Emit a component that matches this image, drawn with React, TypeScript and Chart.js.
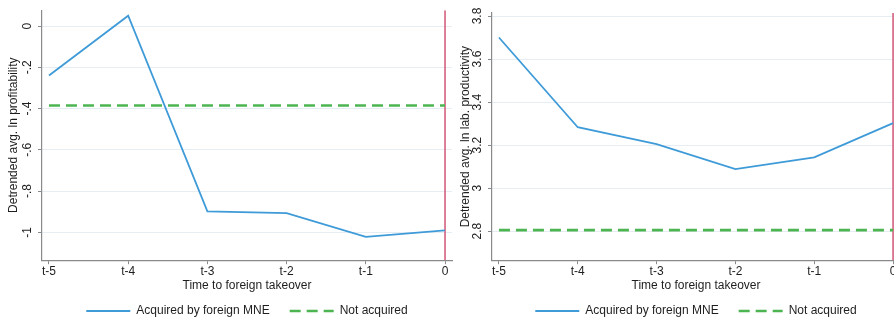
import React, { useEffect, useRef } from 'react';
import { Chart, registerables } from 'chart.js';

Chart.register(...registerables);

// ---- data ----
const periods = [-5, -4, -3, -2, -1, 0];
const xTickLabels = ['t-5', 't-4', 't-3', 't-2', 't-1', '0'];

const profitAcquired = [-0.24, 0.05, -0.898, -0.907, -1.022, -0.99];
const profitNotAcquired = [-0.385, -0.385, -0.385, -0.385, -0.385, -0.385];
const profitYTicks = [-1, -0.8, -0.6, -0.4, -0.2, 0];
const profitYTickLabels = ['-1', '-.8', '-.6', '-.4', '-.2', '0'];

const prodAcquired = [3.7, 3.283, 3.205, 3.088, 3.143, 3.302];
const prodNotAcquired = [2.805, 2.805, 2.805, 2.805, 2.805, 2.805];
const prodYTicks = [2.8, 3, 3.2, 3.4, 3.6, 3.8];
const prodYTickLabels = ['2.8', '3', '3.2', '3.4', '3.6', '3.8'];

const seriesNames = ['Acquired by foreign MNE', 'Not acquired'];
const xTitle = 'Time to foreign takeover';

// ---- style ----
const FONT = '"Liberation Sans", Arial, Helvetica, sans-serif';
const TEXT = '#1e1e1e';
const BLUE = '#3f9bd8';
const GREEN = '#4cb551';
const RED = '#d5607f';
const AXIS = '#8a8a8a';
const GRID = '#e6edf3';

type PanelProps = {
  left: number;
  width: number;
  acquired: number[];
  notAcquired: number[];
  yTicks: number[];
  yTickLabels: string[];
  yMin: number;
  yMax: number;
  yTitle: string;
  yAxisWidth: number;
  yTitlePad: number;
  yTickPad: number;
  padTop: number;
};

const legendPlacer = {
  id: 'legendPlacer',
  afterLayout(chart: any) {
    const lg = chart.legend;
    const ca = chart.chartArea;
    if (!lg || !ca) return;
    lg.left = ca.left;
    lg.right = ca.right;
    lg.width = ca.right - ca.left;
    lg.top = 285;
    lg.bottom = 321;
    lg.height = 36;
  },
};

function Panel(p: PanelProps) {
  const ref = useRef<HTMLCanvasElement | null>(null);
  useEffect(() => {
    if (!ref.current) return;
    const xMin = periods[0] - 0.088;
    const xMax = periods[periods.length - 1] + 0.088;
    const chart = new Chart(ref.current, {
      type: 'line',
      data: {
        datasets: [
          {
            label: seriesNames[0],
            data: periods.map((x, i) => ({ x, y: p.acquired[i] })),
            borderColor: BLUE,
            backgroundColor: BLUE,
            borderWidth: 1.8,
            pointRadius: 0,
            tension: 0,
          },
          {
            label: seriesNames[1],
            data: periods.map((x, i) => ({ x, y: p.notAcquired[i] })),
            borderColor: GREEN,
            backgroundColor: GREEN,
            borderWidth: 2.6,
            borderDash: [11, 6],
            pointRadius: 0,
            tension: 0,
          },
          {
            label: 'takeover',
            data: [
              { x: 0, y: p.yMin },
              { x: 0, y: p.yMax },
            ],
            borderColor: RED,
            borderWidth: 1.6,
            pointRadius: 0,
          },
        ],
      },
      options: {
        animation: false,
        responsive: false,
        maintainAspectRatio: false,
        layout: { padding: { left: 0, right: 3, top: p.padTop, bottom: 0 } },
        plugins: {
          tooltip: { enabled: false },
          legend: {
            position: 'bottom',
            maxHeight: 28,
            labels: {
              usePointStyle: true,
              pointStyle: 'line',
              pointStyleWidth: 44,
              padding: 20,
              color: TEXT,
              font: { family: FONT, size: 12 },
              generateLabels: (c: any) =>
                c.data.datasets.slice(0, 2).map((ds: any, i: number) => ({
                  text: ds.label,
                  datasetIndex: i,
                  fillStyle: ds.borderColor,
                  strokeStyle: ds.borderColor,
                  lineWidth: ds.borderWidth,
                  lineDash: ds.borderDash || [],
                  lineDashOffset: 0,
                  lineCap: 'butt',
                  pointStyle: 'line',
                  fontColor: TEXT,
                  hidden: false,
                })),
            },
          } as any,
        },
        scales: {
          x: {
            type: 'linear',
            min: xMin,
            max: xMax,
            afterBuildTicks: (s: any) => {
              s.ticks = periods.map((v) => ({ value: v }));
            },
            ticks: {
              autoSkip: false,
              maxRotation: 0,
              padding: 0,
              color: TEXT,
              font: { family: FONT, size: 12 },
              callback: (_v: any, i: number) => xTickLabels[i],
            },
            grid: {
              drawOnChartArea: false,
              drawTicks: true,
              tickLength: 4,
              tickColor: AXIS,
            },
            border: { color: AXIS, width: 1.2 },
            title: {
              display: true,
              text: xTitle,
              color: TEXT,
              font: { family: FONT, size: 12 },
              padding: { top: 0, bottom: 0 },
            },
          },
          y: {
            type: 'linear',
            min: p.yMin,
            max: p.yMax,
            afterBuildTicks: (s: any) => {
              s.ticks = p.yTicks.map((v) => ({ value: v }));
            },
            afterFit: (s: any) => {
              s.width = p.yAxisWidth;
            },
            ticks: {
              minRotation: 90,
              maxRotation: 90,
              crossAlign: 'center',
              padding: p.yTickPad,
              color: TEXT,
              font: { family: FONT, size: 12 },
              callback: (_v: any, i: number) => p.yTickLabels[i],
            },
            grid: {
              color: GRID,
              lineWidth: 1,
              drawTicks: true,
              tickLength: 4,
              tickColor: AXIS,
            },
            border: { color: AXIS, width: 1.2 },
            title: {
              display: true,
              text: p.yTitle,
              color: TEXT,
              font: { family: FONT, size: 12 },
              padding: { top: p.yTitlePad, bottom: 0 },
            },
          },
        },
      },
      plugins: [legendPlacer],
    } as any);
    return () => chart.destroy();
  }, []);
  return (
    <canvas
      ref={ref}
      width={p.width}
      height={321}
      style={{ position: 'absolute', left: p.left, top: 0, width: p.width, height: 321 }}
    />
  );
}

export default function App() {
  return (
    <div
      style={{
        position: 'fixed',
        left: 0,
        top: 0,
        width: 894,
        height: 321,
        overflow: 'hidden',
        background: '#ffffff',
      }}
    >
      <Panel
        left={0}
        width={455}
        acquired={profitAcquired}
        notAcquired={profitNotAcquired}
        yTicks={profitYTicks}
        yTickLabels={profitYTickLabels}
        yMin={-1.135}
        yMax={0.077}
        yTitle="Detrended avg. ln profitability"
        yAxisWidth={42}
        yTitlePad={6}
        yTickPad={3}
        padTop={9}
      />
      <Panel
        left={447}
        width={456}
        acquired={prodAcquired}
        notAcquired={prodNotAcquired}
        yTicks={prodYTicks}
        yTickLabels={prodYTickLabels}
        yMin={2.665}
        yMax={3.814}
        yTitle="Detrended avg. ln lab. productivity"
        yAxisWidth={45}
        yTitlePad={11}
        yTickPad={2}
        padTop={13}
      />
    </div>
  );
}
